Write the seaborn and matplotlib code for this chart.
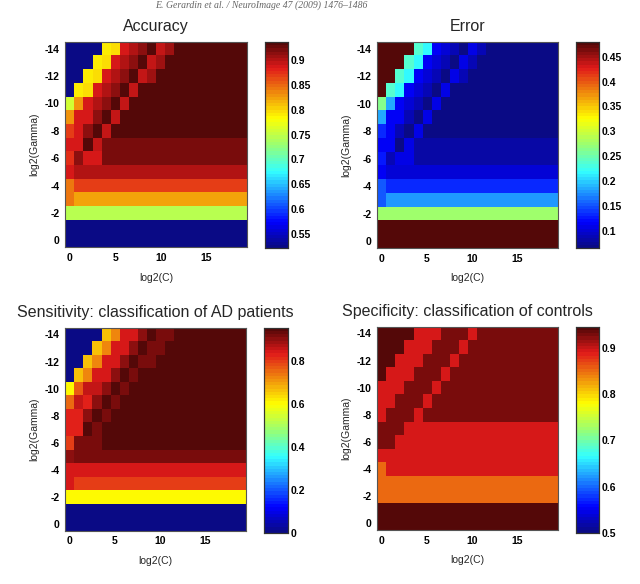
import numpy as np
import pandas as pd
import matplotlib
matplotlib.use("Agg")
import matplotlib.pyplot as plt
from matplotlib.colors import LinearSegmentedColormap
import seaborn as sns

# ---------------- data ----------------
log2C = [0, 1, 2, 3, 4, 5, 6, 7, 8, 9, 10, 11, 12, 13, 14, 15, 16, 17, 18, 19]
log2Gamma = [-14, -13, -12, -11, -10, -9, -8, -7, -6, -5, -4, -3, -2, -1, 0]
xtick_vals = [0, 5, 10, 15]
ytick_vals = [-14, -12, -10, -8, -6, -4, -2, 0]

accuracy = [
    [0.522]*4 + [0.79, 0.795, 0.886, 0.90, 0.912, 0.936, 0.893, 0.91] + [0.932]*8,
    [0.522]*3 + [0.79, 0.795, 0.886, 0.90, 0.912, 0.936, 0.893, 0.91] + [0.932]*9,
    [0.522]*2 + [0.79, 0.795, 0.886, 0.90, 0.912, 0.936, 0.893, 0.91] + [0.932]*10,
    [0.522]*1 + [0.79, 0.795, 0.886, 0.90, 0.912, 0.936, 0.893] + [0.932]*12,
    [0.755, 0.83, 0.886, 0.90, 0.912, 0.936, 0.893] + [0.932]*13,
    [0.83, 0.886, 0.886, 0.912, 0.936, 0.893] + [0.932]*14,
    [0.87, 0.886, 0.912, 0.936, 0.893] + [0.932]*15,
    [0.886, 0.886, 0.936, 0.893] + [0.918]*16,
    [0.875, 0.912, 0.89, 0.89] + [0.918]*16,
    [0.885] + [0.903]*19,
    [0.845] + [0.868]*19,
    [0.845] + [0.825]*19,
    [0.742]*20,
    [0.522]*20,
    [0.522]*20,
]

error = [
    [0.478]*4 + [0.235, 0.215, 0.114, 0.10, 0.088, 0.064, 0.107, 0.09] + [0.068]*8,
    [0.478]*3 + [0.235, 0.215, 0.114, 0.10, 0.088, 0.064, 0.107, 0.09] + [0.068]*9,
    [0.478]*2 + [0.235, 0.215, 0.114, 0.10, 0.088, 0.064, 0.107, 0.09] + [0.068]*10,
    [0.478]*1 + [0.235, 0.215, 0.114, 0.10, 0.088, 0.064, 0.107] + [0.068]*12,
    [0.265, 0.185, 0.114, 0.10, 0.088, 0.064, 0.107] + [0.068]*13,
    [0.185, 0.114, 0.114, 0.088, 0.064, 0.107] + [0.068]*14,
    [0.13, 0.114, 0.088, 0.064, 0.107] + [0.068]*15,
    [0.114, 0.114, 0.064, 0.107] + [0.082]*16,
    [0.125, 0.088, 0.11, 0.11] + [0.082]*16,
    [0.115] + [0.1]*19,
    [0.15] + [0.135]*19,
    [0.15] + [0.18]*19,
    [0.275]*20,
    [0.478]*20,
    [0.478]*20,
]

sensitivity = [
    [0.0]*4 + [0.67, 0.72, 0.84, 0.84, 0.90, 0.95, 0.915, 0.915] + [0.945]*8,
    [0.0]*3 + [0.67, 0.72, 0.84, 0.84, 0.90, 0.95, 0.915, 0.915] + [0.945]*9,
    [0.0]*2 + [0.67, 0.72, 0.84, 0.84, 0.90, 0.95, 0.915, 0.915] + [0.945]*10,
    [0.0]*1 + [0.67, 0.72, 0.84, 0.84, 0.90, 0.95, 0.915] + [0.945]*12,
    [0.60, 0.77, 0.86, 0.86, 0.91, 0.95, 0.915] + [0.945]*13,
    [0.76, 0.86, 0.83, 0.91, 0.95, 0.92] + [0.945]*14,
    [0.83, 0.83, 0.91, 0.95, 0.92] + [0.945]*15,
    [0.83, 0.83, 0.95, 0.92] + [0.945]*16,
    [0.80, 0.925, 0.925, 0.925] + [0.945]*16,
    [0.90] + [0.925]*19,
    [0.84]*20,
    [0.84] + [0.80]*19,
    [0.60]*20,
    [0.0]*20,
    [0.0]*20,
]

specificity = [
    [0.945]*4 + [0.89]*3 + [0.925]*3 + [0.89] + [0.925]*9,
    [0.945]*3 + [0.89]*3 + [0.925]*3 + [0.89] + [0.925]*10,
    [0.945]*2 + [0.89]*3 + [0.925]*3 + [0.89] + [0.925]*11,
    [0.945]*1 + [0.89]*3 + [0.925]*3 + [0.89] + [0.925]*12,
    [0.89]*3 + [0.925]*3 + [0.89] + [0.925]*13,
    [0.89]*2 + [0.925]*3 + [0.89] + [0.925]*14,
    [0.89]*1 + [0.925]*3 + [0.89] + [0.925]*15,
    [0.925]*3 + [0.89]*17,
    [0.925]*2 + [0.89]*18,
    [0.89]*20,
    [0.85] + [0.89]*19,
    [0.85]*20,
    [0.85]*20,
    [0.945]*20,
    [0.945]*20,
]

titles = ["Accuracy", "Error",
          "Sensitivity: classification of AD patients",
          "Specificity: classification of controls"]
ranges = [(0.522, 0.936), (0.065, 0.4795), (0.0, 0.955), (0.5, 0.945)]
cbar_ticks = [[0.55, 0.6, 0.65, 0.7, 0.75, 0.8, 0.85, 0.9],
              [0.1, 0.15, 0.2, 0.25, 0.3, 0.35, 0.4, 0.45],
              [0, 0.2, 0.4, 0.6, 0.8],
              [0.5, 0.6, 0.7, 0.8, 0.9]]
cbar_labels = [["0.55", "0.6", "0.65", "0.7", "0.75", "0.8", "0.85", "0.9"],
               ["0.1", "0.15", "0.2", "0.25", "0.3", "0.35", "0.4", "0.45"],
               ["0", "0.2", "0.4", "0.6", "0.8"],
               ["0.5", "0.6", "0.7", "0.8", "0.9"]]
header = "E. Gerardin et al. / NeuroImage 47 (2009) 1476\u20131486"

# ---------------- style ----------------
sns.set_style("white")
plt.rcParams['font.family'] = ['Liberation Sans', 'DejaVu Sans']

cmap = LinearSegmentedColormap.from_list(
    "mjet",
    [(0.0, (0.04, 0.04, 0.52)), (0.12, (0.0, 0.0, 1.0)), (0.37, (0.2, 1.0, 1.0)),
     (0.5, (0.6, 1.0, 0.45)), (0.63, (1.0, 1.0, 0.0)), (0.88, (0.88, 0.1, 0.1)),
     (1.0, (0.33, 0.03, 0.03))], N=64)

W, H = 640, 584
fig = plt.figure(figsize=(W / 100, H / 100), dpi=100)

def box(x0, y0, x1, y1):
    return [x0 / W, 1 - y1 / H, (x1 - x0) / W, (y1 - y0) / H]

ax_boxes = [box(65.3, 41.7, 247.0, 247.3), box(377.3, 41.7, 558.3, 248.0),
            box(65.3, 327.7, 246.3, 530.7), box(377.3, 326.7, 558.3, 530.0)]
cb_boxes = [box(264.5, 42.0, 288.3, 248.0), box(576.0, 42.0, 599.3, 248.0),
            box(264.3, 327.7, 288.3, 533.0), box(576.0, 326.7, 599.3, 533.0)]

datasets = [accuracy, error, sensitivity, specificity]

for i in range(4):
    ax = fig.add_axes(ax_boxes[i])
    cax = fig.add_axes(cb_boxes[i])
    df = pd.DataFrame(datasets[i], index=log2Gamma, columns=log2C)
    vmin, vmax = ranges[i]
    sns.heatmap(df, ax=ax, cbar_ax=cax, cmap=cmap, vmin=vmin, vmax=vmax,
                xticklabels=False, yticklabels=False,
                cbar_kws={"ticks": cbar_ticks[i]})
    ax.set_xticks([log2C.index(v) + 0.5 for v in xtick_vals])
    ax.set_xticklabels([str(v) for v in xtick_vals], fontsize=7.5, fontweight='bold')
    ax.set_yticks([log2Gamma.index(v) + 0.5 for v in ytick_vals])
    ax.set_yticklabels([str(v) for v in ytick_vals], fontsize=7.5, fontweight='bold',
                       rotation=0)
    ax.tick_params(direction='in', length=3, width=0.6, top=True, right=True,
                   bottom=True, left=True, labeltop=False, labelright=False,
                   colors='#333333', labelcolor='black', pad=4)
    for s in ax.spines.values():
        s.set_visible(True)
        s.set_linewidth(0.8)
        s.set_color('#555555')
    ax.set_xlabel("log2(C)", fontsize=7.5, labelpad=7)
    ax.set_ylabel("log2(Gamma)", fontsize=7.5, labelpad=4)
    ax.set_title(titles[i], fontsize=11.5, pad=8)
    cax.set_yticklabels(cbar_labels[i], fontsize=7.5, fontweight='bold')
    cax.tick_params(direction='in', length=3, width=0.6, right=True, left=False,
                    colors='#333333', labelcolor='black', pad=2)
    for s in cax.spines.values():
        s.set_visible(True)
        s.set_linewidth(0.8)
        s.set_color('#333333')

fig.text(261 / W, 1.0 - 0.5 / H, header, ha='center', va='top', fontsize=7,
         family='Liberation Serif', style='italic', color='#666666')

fig.savefig("out.png", dpi=100)
